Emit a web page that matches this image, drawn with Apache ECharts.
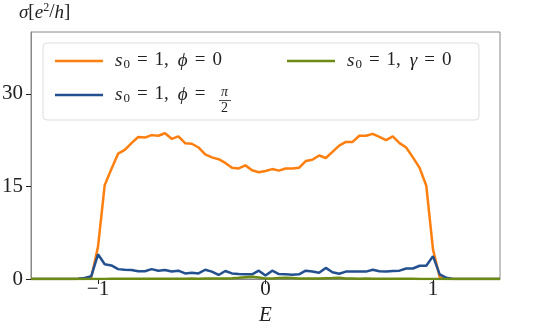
<!DOCTYPE html>
<html>
<head>
<meta charset="utf-8">
<script src="https://cdn.jsdelivr.net/npm/echarts@6/dist/echarts.min.js"></script>
<style>
  html, body { margin: 0; padding: 0; background: #fff; }
  #chart { width: 538px; height: 332px; }
</style>
</head>
<body>
<div id="chart"></div>
<script>
// energy grid E (step 0.04)
var energy = [
  -1.40, -1.36, -1.32, -1.28, -1.24, -1.20, -1.16, -1.12, -1.08, -1.04,
  -1.00, -0.96, -0.92, -0.88, -0.84, -0.80, -0.76, -0.72, -0.68, -0.64,
  -0.60, -0.56, -0.52, -0.48, -0.44, -0.40, -0.36, -0.32, -0.28, -0.24,
  -0.20, -0.16, -0.12, -0.08, -0.04, 0.00, 0.04, 0.08, 0.12, 0.16,
  0.20, 0.24, 0.28, 0.32, 0.36, 0.40, 0.44, 0.48, 0.52, 0.56,
  0.60, 0.64, 0.68, 0.72, 0.76, 0.80, 0.84, 0.88, 0.92, 0.96,
  1.00, 1.04, 1.08, 1.12, 1.16, 1.20, 1.24, 1.28, 1.32, 1.36,
  1.40
];

// s0 = 1, phi = 0
var sigmaPhi0 = [
  0, 0, 0, 0, 0, 0, 0, 0, 0, 0.3,
  5.2, 15.2, 17.8, 20.3, 20.9, 22.0, 23.0, 22.9, 23.3, 23.2,
  23.6, 22.7, 23.1, 22.0, 21.9, 21.3, 20.2, 19.7, 19.4, 18.8,
  18.0, 17.9, 18.4, 17.6, 17.3, 17.5, 17.8, 17.55, 17.9, 17.9,
  18.0, 19.1, 19.3, 20.0, 19.6, 20.6, 21.6, 22.2, 22.2, 23.2,
  23.2, 23.5, 23.0, 22.5, 23.1, 22.0, 21.3, 19.7, 18.0, 15.1,
  4.8, 0.3, 0, 0, 0, 0, 0, 0, 0, 0,
  0
];

// s0 = 1, phi = pi/2
var sigmaPhiHalfPi = [
  0, 0, 0, 0, 0, 0, 0, 0.05, 0.15, 0.45,
  4.0, 2.4, 2.2, 1.6, 1.5, 1.45, 1.25, 1.25, 1.6, 1.35,
  1.45, 1.2, 1.35, 0.9, 1.0, 0.9, 1.5, 1.2, 0.65, 1.3,
  0.9, 0.8, 0.75, 0.75, 1.35, 0.55, 1.35, 0.8, 0.75, 0.7,
  0.75, 1.35, 1.2, 1.0, 1.8, 1.1, 0.85, 1.2, 1.2, 1.2,
  1.2, 1.5, 1.25, 1.2, 1.3, 1.35, 1.7, 1.7, 2.15, 2.15,
  3.7, 0.75, 0.2, 0, 0, 0, 0, 0, 0, 0,
  0
];

// s0 = 1, gamma = 0
var sigmaGamma0 = [
  0, 0, 0, 0, 0, 0, 0, 0, 0, 0,
  0, 0.02, 0.03, 0.03, 0.04, 0.03, 0.05, 0.04, 0.05, 0.04,
  0.06, 0.05, 0.06, 0.05, 0.08, 0.06, 0.08, 0.07, 0.09, 0.08,
  0.12, 0.2, 0.3, 0.35, 0.25, 0.1, 0.1, 0.15, 0.2, 0.15,
  0.1, 0.08, 0.1, 0.08, 0.12, 0.15, 0.2, 0.1, 0.08, 0.06,
  0.07, 0.05, 0.06, 0.05, 0.04, 0.04, 0.03, 0.03, 0.02, 0.02,
  0.01, 0, 0, 0, 0, 0, 0, 0, 0, 0,
  0
];

var xTicks = [-1, 0, 1];
var yTicks = [0, 15, 30];

var serif = '"Liberation Serif", "DejaVu Serif", serif';
var ink = '#222';

function pairs(ys) {
  return energy.map(function (x, i) { return [x, ys[i]]; });
}

// legend math text, spacing widened like TeX
var mathRich = {
  i: { fontFamily: serif, fontStyle: 'italic', fontSize: 19, color: ink },
  r: { fontFamily: serif, fontSize: 19, color: ink },
  eq: { fontFamily: serif, fontSize: 19, color: ink, padding: [0, 7, 0, 7] },
  cm: { fontFamily: serif, fontSize: 19, color: ink, padding: [0, 9, 0, 0] },
  sub: { fontFamily: serif, fontSize: 13, color: ink, padding: [8, 0, 0, 1] }
};

var legendLabels = {
  'phi0': '{i|s}{sub|0}{eq|=}{r|1}{cm|,}{i|ϕ}{eq|=}{r|0}',
  'phiPi2': '{i|s}{sub|0}{eq|=}{r|1}{cm|,}{i|ϕ}{eq|=}',
  'gamma0': '{i|s}{sub|0}{eq|=}{r|1}{cm|,}{i|γ}{eq|=}{r|0}'
};

var chart = echarts.init(document.getElementById('chart'));

var option = {
  animation: false,
  grid: {
    left: 31, right: 38, top: 32, bottom: 53,
    outerBoundsMode: 'none',
    show: true, borderColor: '#888', borderWidth: 1
  },
  xAxis: {
    type: 'value',
    min: -1.4, max: 1.4,
    name: 'E',
    nameLocation: 'middle',
    nameGap: 25,
    nameTextStyle: { fontFamily: serif, fontStyle: 'italic', fontSize: 21, color: ink },
    axisLine: { show: true, onZero: false, lineStyle: { color: '#888' } },
    axisTick: { show: true, length: 5, customValues: xTicks, lineStyle: { color: ink } },
    axisLabel: {
      customValues: xTicks,
      fontFamily: serif, fontSize: 21, color: ink, margin: 0,
      formatter: function (v) { return v < 0 ? '\u2212' + Math.abs(v) : String(v); }
    },
    splitLine: { show: false }
  },
  yAxis: {
    type: 'value',
    min: 0, max: 40,
    name: '{i|σ}{r|[}{i|e}{sup|2}{r|/}{i|h}{r|]}',
    nameLocation: 'end',
    nameGap: 9,
    nameTextStyle: {
      align: 'left', padding: [0, 0, 0, -12],
      rich: {
        i: { fontFamily: serif, fontStyle: 'italic', fontSize: 19, color: ink },
        r: { fontFamily: serif, fontSize: 19, color: ink },
        sup: { fontFamily: serif, fontSize: 12, color: ink, padding: [0, 0, 9, 0] }
      }
    },
    axisLine: { show: true, onZero: false, lineStyle: { color: '#888' } },
    axisTick: { show: true, length: 5, customValues: yTicks, lineStyle: { color: ink } },
    axisLabel: { customValues: yTicks, fontFamily: serif, fontSize: 21, color: ink, margin: 8 },
    splitLine: { show: false }
  },
  legend: [
    {
      data: ['phi0', 'phiPi2'],
      orient: 'vertical',
      left: 50, top: 46,
      itemWidth: 48, itemHeight: 2.5, itemGap: 14,
      icon: 'rect',
      formatter: function (n) { return legendLabels[n]; },
      textStyle: { rich: mathRich, padding: [0, 0, 0, 7], height: 22 }
    },
    {
      data: ['gamma0'],
      orient: 'vertical',
      left: 282, top: 46,
      itemWidth: 48, itemHeight: 2.5,
      icon: 'rect',
      formatter: function (n) { return legendLabels[n]; },
      textStyle: { rich: mathRich, padding: [0, 0, 0, 7], height: 22 }
    }
  ],
  graphic: [
    {
      type: 'rect', z: -1,
      shape: { x: 43, y: 43, width: 436, height: 77, r: 4 },
      style: { fill: 'rgba(255,255,255,0.8)', stroke: '#ddd', lineWidth: 1 }
    },
    // pi over 2 in the second legend entry
    {
      type: 'text', left: 221, top: 85,
      style: { text: 'π', fontFamily: serif, fontStyle: 'italic', fontSize: 14, fill: ink }
    },
    {
      type: 'rect',
      shape: { x: 219, y: 100, width: 12, height: 0.8 },
      style: { fill: ink }
    },
    {
      type: 'text', left: 221, top: 101,
      style: { text: '2', fontFamily: serif, fontSize: 14, fill: ink }
    }
  ],
  series: [
    {
      name: 'phi0', type: 'line', data: pairs(sigmaPhi0),
      showSymbol: false, color: '#ff7f0e',
      lineStyle: { width: 2.5, color: '#ff7f0e' }, z: 3
    },
    {
      name: 'phiPi2', type: 'line', data: pairs(sigmaPhiHalfPi),
      showSymbol: false, color: '#23508f',
      lineStyle: { width: 2.5, color: '#23508f' }, z: 4
    },
    {
      name: 'gamma0', type: 'line', data: pairs(sigmaGamma0),
      showSymbol: false, color: '#6b8b14',
      lineStyle: { width: 2.5, color: '#6b8b14' }, z: 5
    }
  ]
};

chart.setOption(option);
</script>
</body>
</html>
